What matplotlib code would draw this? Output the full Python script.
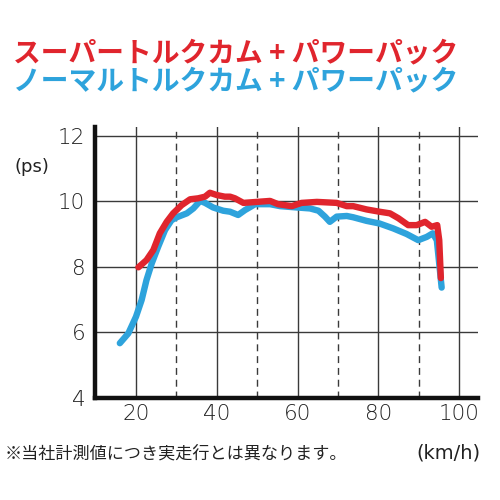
import matplotlib
matplotlib.use("Agg")
import matplotlib.pyplot as plt

# ---- data ----
super_x = [20.6, 22.6, 24.3, 25.9, 27.6, 29.2, 31.3, 33.4, 35.4, 37.1, 38.3, 40.0, 42.0,
           43.3, 44.5, 46.6, 49.9, 53.2, 55.2, 58.6, 61.0, 64.8, 69.7, 72.2, 73.8, 77.1,
           80.3, 82.9, 85.0, 87.4, 89.5, 91.6, 93.2, 94.6, 95.1, 95.5]
super_y = [7.98, 8.20, 8.51, 9.02, 9.37, 9.63, 9.88, 10.06, 10.09, 10.14, 10.26, 10.19, 10.14,
           10.14, 10.09, 9.95, 9.98, 10.01, 9.91, 9.85, 9.95, 9.98, 9.95, 9.85, 9.85, 9.75,
           9.68, 9.63, 9.48, 9.27, 9.27, 9.37, 9.22, 9.27, 8.81, 7.65]

normal_x = [16.0, 18.1, 20.0, 21.4, 22.6, 23.9, 25.5, 27.2, 28.8, 30.1, 32.6, 34.2, 35.9,
            37.1, 39.1, 41.6, 43.3, 45.3, 47.0, 49.5, 53.2, 55.7, 59.8, 63.1, 65.2, 66.8,
            68.0, 69.7, 72.2, 73.8, 77.1, 80.3, 83.7, 87.0, 89.9, 92.0, 93.5, 94.5, 95.7]
normal_y = [5.66, 5.96, 6.47, 6.98, 7.59, 8.10, 8.61, 9.12, 9.42, 9.51, 9.63, 9.78, 10.01,
            9.95, 9.81, 9.71, 9.68, 9.58, 9.73, 9.91, 9.91, 9.85, 9.81, 9.78, 9.71, 9.53,
            9.37, 9.53, 9.55, 9.51, 9.40, 9.32, 9.17, 9.00, 8.81, 8.91, 9.02, 8.81, 7.36]

x_ticks = [20, 40, 60, 80, 100]
x_dashed = [30, 50, 70, 90]
y_ticks = [4, 6, 8, 10, 12]

title_super = "スーパートルクカム + パワーパック"
title_normal = "ノーマルトルクカム + パワーパック"
footnote = "※当社計測値につき実走行とは異なります。"
x_unit = "(km/h)"
y_unit = "(ps)"

RED = "#e0252d"
BLUE = "#2ea3dc"
GRID = "#3a3a3a"

plt.rcParams['font.family'] = ['Noto Sans CJK JP', 'DejaVu Sans']

fig = plt.figure(figsize=(5, 5), dpi=100)
ax = fig.add_axes([0.19, 0.205, 0.766, 0.541])
ax.set_xlim(9.85, 104.7)
ax.set_ylim(4, 12.27)

for xv in x_ticks:
    ax.axvline(xv, color=GRID, lw=1.0, zorder=1)
for xv in x_dashed:
    ax.axvline(xv, color=GRID, lw=1.0, ls=(0, (5, 3.5)), zorder=1)
for yv in y_ticks[1:]:
    ax.axhline(yv, color=GRID, lw=1.0, zorder=1)

ax.plot(normal_x, normal_y, color=BLUE, lw=4.6, solid_capstyle='round',
        solid_joinstyle='round', zorder=3)
ax.plot(super_x, super_y, color=RED, lw=4.6, solid_capstyle='round',
        solid_joinstyle='round', zorder=4)

for s in ['top', 'right']:
    ax.spines[s].set_visible(False)
ax.spines['left'].set_linewidth(3.2)
ax.spines['bottom'].set_linewidth(3.2)
ax.spines['left'].set_color('#111111')
ax.spines['bottom'].set_color('#111111')

ax.set_xticks(x_ticks)
ax.set_yticks(y_ticks)
ax.set_xticklabels([str(v) for v in x_ticks])
ax.set_yticklabels([str(v) for v in y_ticks])
ax.tick_params(axis='both', length=0, labelsize=15.5, colors='#222222')
ax.tick_params(axis='y', pad=7)
ax.tick_params(axis='x', pad=5)
for lab in ax.get_xticklabels() + ax.get_yticklabels():
    lab.set_family(['DejaVu Sans'])
    lab.set_fontweight('light')

fig.text(0.063, 0.666, y_unit, fontsize=13, color='#222222', ha='center', va='center',
         family=['DejaVu Sans'])
fig.text(0.962, 0.094, x_unit, fontsize=14, color='#222222', ha='right', va='center',
         family=['DejaVu Sans'])
fig.text(0.01, 0.094, footnote, fontsize=12.3, color='#222222', ha='left', va='center')

fig.text(0.472, 0.894, title_super, fontsize=20, color=RED, fontweight='bold',
         ha='center', va='center')
fig.text(0.472, 0.838, title_normal, fontsize=20, color=BLUE, fontweight='bold',
         ha='center', va='center')

fig.savefig("out.png", dpi=100, facecolor='white')
